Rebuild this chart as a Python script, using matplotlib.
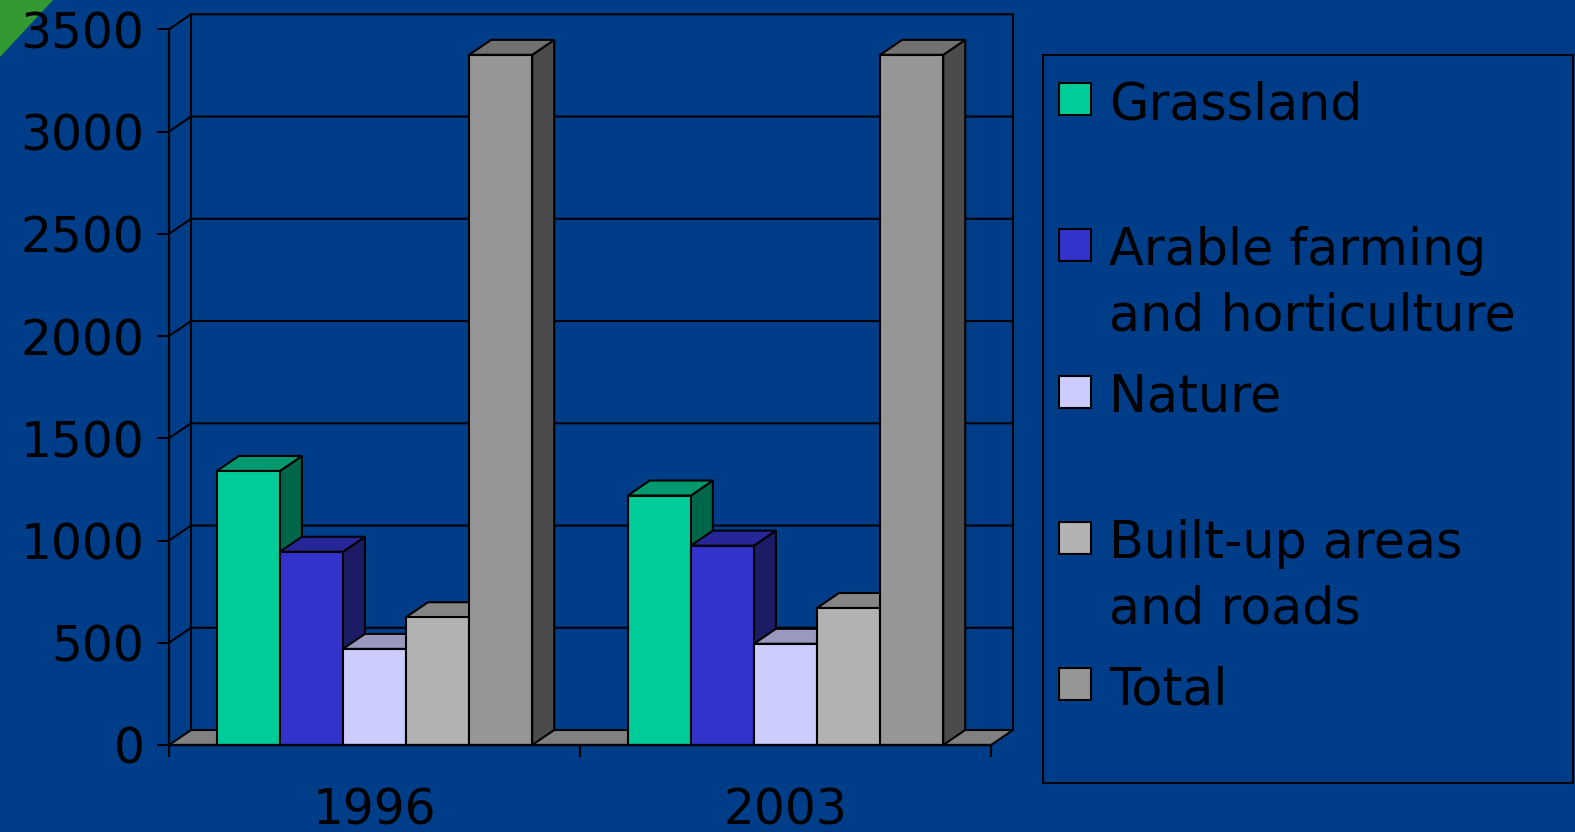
import numpy as np
import matplotlib
matplotlib.use("Agg")
import matplotlib.pyplot as plt
from matplotlib.patches import Polygon, Rectangle

# data
years = ["1996", "2003"]
labels = ["Grassland", "Arable farming\nand horticulture", "Nature",
          "Built-up areas\nand roads", "Total"]
grassland = [1340, 1220]
arable = [945, 975]
nature = [470, 495]
builtup = [625, 670]
total = [3375, 3375]
values = [grassland, arable, nature, builtup, total]
yticks = [0, 500, 1000, 1500, 2000, 2500, 3000, 3500]

front = ["#00CC99", "#3333CC", "#CCCCFF", "#B2B2B2", "#969696"]
tops = ["#00996F", "#262699", "#9999C0", "#858585", "#717171"]
sides = ["#00664A", "#1C1C66", "#66667F", "#595959", "#4B4B4B"]
bg = "#003D88"

W, H = 1575, 832
fig = plt.figure(figsize=(W / 100, H / 100), dpi=100, facecolor=bg)
ax = fig.add_axes([169 / W, 1 - 745 / H, 822 / W, (745 - 29.3) / H])
ax.set_facecolor("none")
ax.set_xlim(-0.5, 1.5)
ax.set_ylim(0, 3500)

bw = 0.1535              # bar width in category units
ddx = 22 / 411           # depth offset, x (category units)
ddy = 15 / ((745 - 29.3) / 3500)  # depth offset, y (value units)
lw = 1.5

# floor
ax.add_patch(Polygon([(-0.5, 0), (1.5, 0), (1.5 + ddx, ddy), (-0.5 + ddx, ddy)],
                     closed=True, fc="#808080", ec="black", lw=lw, clip_on=False, zorder=1))
# back wall grid + left wall diagonals
for v in yticks[1:]:
    ax.plot([-0.5, -0.5 + ddx, 1.5 + ddx], [v, v + ddy, v + ddy],
            color="black", lw=lw, clip_on=False, zorder=1)
for xe in (-0.5 + ddx, 1.5 + ddx):
    ax.plot([xe, xe], [ddy, 3500 + ddy], color="black", lw=lw, clip_on=False, zorder=1)

# pseudo-3D bars, painted left to right
for j in range(len(years)):
    for i, vals in enumerate(values):
        v = vals[j]
        x0 = j + (i - 2.5) * bw
        x1 = x0 + bw
        ax.add_patch(Polygon([(x1, 0), (x1, v), (x1 + ddx, v + ddy), (x1 + ddx, ddy)],
                             closed=True, fc=sides[i], ec="black", lw=lw, clip_on=False, zorder=2))
        ax.add_patch(Polygon([(x0, v), (x1, v), (x1 + ddx, v + ddy), (x0 + ddx, v + ddy)],
                             closed=True, fc=tops[i], ec="black", lw=lw, clip_on=False, zorder=2))
        ax.bar(x0, v, width=bw, align="edge", color=front[i], edgecolor="black",
               linewidth=lw, zorder=2)

for s in ["top", "right"]:
    ax.spines[s].set_visible(False)
for s in ["left", "bottom"]:
    ax.spines[s].set_color("black")
    ax.spines[s].set_linewidth(1.6)
    ax.spines[s].set_zorder(3)

ax.set_yticks(yticks)
ax.tick_params(axis="y", direction="out", length=8.6, width=1.5, color="black",
               labelsize=35, labelcolor="black", pad=9)
ax.set_xticks([-0.5, 0.5, 1.5])
ax.set_xticklabels([])
ax.set_xticks([0, 1], minor=True)
ax.set_xticklabels(years, minor=True)
ax.tick_params(axis="x", which="major", direction="out", length=8.6, width=1.5, color="black")
ax.tick_params(axis="x", which="minor", length=0, labelsize=35, labelcolor="black", pad=30)

# legend (drawn in figure pixels)
def fx(x):
    return x / W

def fy(y):
    return 1 - y / H

fig.add_artist(Rectangle((fx(1043), fy(783)), 530 / W, 728 / H, fill=False,
                         ec="black", lw=1.5, transform=fig.transFigure))
for k, lab in enumerate(labels):
    yc = 99 + k * 146.3
    fig.add_artist(Rectangle((fx(1059), fy(yc + 16)), 32 / W, 32 / H, fc=front[k],
                             ec="black", lw=1.5, transform=fig.transFigure))
    fig.text(fx(1109), fy(yc - 19), lab, ha="left", va="top", fontsize=36.5,
             color="black", linespacing=1.4)

# green corner
fig.add_artist(Polygon([(0, 1), (fx(53), 1), (0, fy(57))], closed=True,
                       fc="#339933", ec="none", transform=fig.transFigure, zorder=0))

fig.savefig("out.png", dpi=100, facecolor=bg)
